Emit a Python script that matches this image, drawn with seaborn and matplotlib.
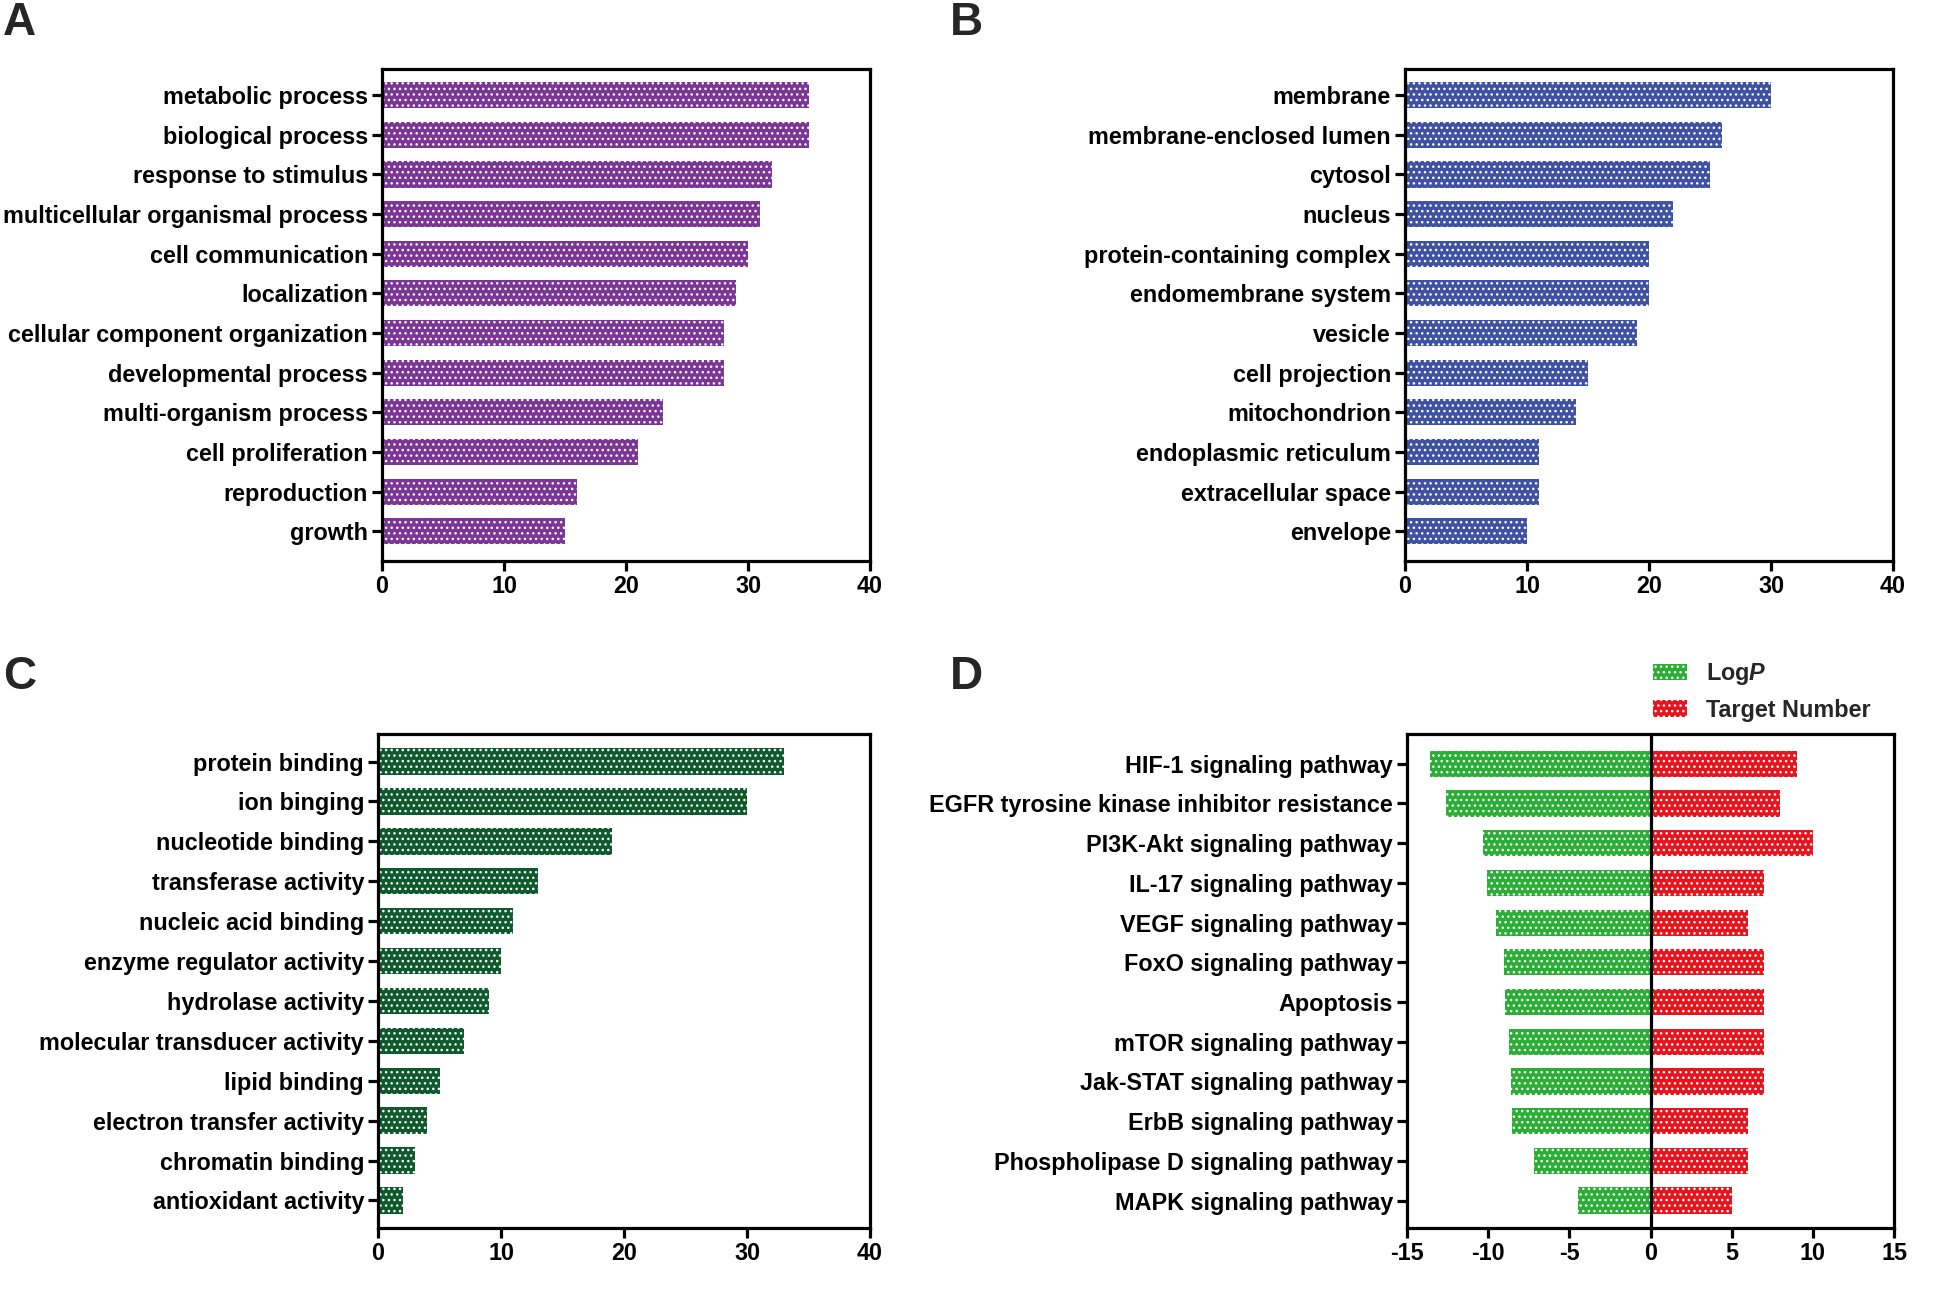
import matplotlib
matplotlib.use("Agg")
import matplotlib.pyplot as plt
import seaborn as sns
import pandas as pd
import numpy as np
from matplotlib.patches import Patch

# ---------------- data ----------------
bp_terms = ["metabolic process", "biological process", "response to stimulus",
            "multicellular organismal process", "cell communication", "localization",
            "cellular component organization", "developmental process",
            "multi-organism process", "cell proliferation", "reproduction", "growth"]
bp_counts = [35, 35, 32, 31, 30, 29, 28, 28, 23, 21, 16, 15]

cc_terms = ["membrane", "membrane-enclosed lumen", "cytosol", "nucleus",
            "protein-containing complex", "endomembrane system", "vesicle",
            "cell projection", "mitochondrion", "endoplasmic reticulum",
            "extracellular space", "envelope"]
cc_counts = [30, 26, 25, 22, 20, 20, 19, 15, 14, 11, 11, 10]

mf_terms = ["protein binding", "ion binging", "nucleotide binding", "transferase activity",
            "nucleic acid binding", "enzyme regulator activity", "hydrolase activity",
            "molecular transducer activity", "lipid binding", "electron transfer activity",
            "chromatin binding", "antioxidant activity"]
mf_counts = [33, 30, 19, 13, 11, 10, 9, 7, 5, 4, 3, 2]

kegg_terms = ["HIF-1 signaling pathway", "EGFR tyrosine kinase inhibitor resistance",
              "PI3K-Akt signaling pathway", "IL-17 signaling pathway",
              "VEGF signaling pathway", "FoxO signaling pathway", "Apoptosis",
              "mTOR signaling pathway", "Jak-STAT signaling pathway",
              "ErbB signaling pathway", "Phospholipase D signaling pathway",
              "MAPK signaling pathway"]
kegg_logp = [-13.6, -12.6, -10.3, -10.1, -9.5, -9.0, -8.95, -8.7, -8.6, -8.55, -7.2, -4.45]
kegg_targets = [9, 8, 10, 7, 6, 7, 7, 7, 7, 6, 6, 5]

# ---------------- style ----------------
sns.set_style("ticks")
plt.rcParams['font.family'] = ['Liberation Sans', 'DejaVu Sans']
plt.rcParams['font.weight'] = 'bold'
plt.rcParams['axes.unicode_minus'] = False
plt.rcParams['hatch.color'] = 'white'
plt.rcParams['hatch.linewidth'] = 1.0
plt.rcParams['mathtext.fontset'] = 'custom'
plt.rcParams['mathtext.rm'] = 'Liberation Sans:bold'
plt.rcParams['mathtext.it'] = 'Liberation Sans:italic:bold'
plt.rcParams['mathtext.bf'] = 'Liberation Sans:bold'

fig = plt.figure(figsize=(19.44, 12.93), dpi=100)

W, H = 1944, 1293
def axes_px(l, r, t, b):
    return fig.add_axes([l / W, 1 - b / H, (r - l) / W, (b - t) / H])

axA = axes_px(382, 870, 69, 561)
axB = axes_px(1405, 1893, 69, 561)
axC = axes_px(378, 870, 734, 1228)
axD = axes_px(1407, 1894, 734, 1228)

FS = 16.8
BARW = 0.66

def style_axes(ax):
    for s in ax.spines.values():
        s.set_linewidth(2.3)
        s.set_color('black')
        s.set_visible(True)
    ax.tick_params(axis='both', direction='out', length=7, width=2.3,
                   labelsize=FS, colors='black', pad=3)
    for lab in ax.get_xticklabels() + ax.get_yticklabels():
        lab.set_fontweight('bold')
    ax.set_xlabel('')
    ax.set_ylabel('')

def hatch_bars(ax):
    for p in ax.patches:
        p.set_hatch('...')
        p.set_edgecolor('white')
        p.set_linewidth(0)

def simple_panel(ax, terms, counts, color, ytop, ybot):
    df = pd.DataFrame({'term': terms, 'count': counts})
    sns.barplot(data=df, y='term', x='count', orient='h', color=color,
                width=BARW, saturation=1, ax=ax)
    hatch_bars(ax)
    ax.set_xlim(0, 40)
    ax.set_xticks([0, 10, 20, 30, 40])
    ax.set_ylim(ybot, ytop)
    style_axes(ax)

simple_panel(axA, bp_terms, bp_counts, '#7B3595', -0.66, 11.75)
simple_panel(axB, cc_terms, cc_counts, '#3F51A3', -0.66, 11.75)
simple_panel(axC, mf_terms, mf_counts, '#0F5A2C', -0.69, 11.69)

# Panel D
dfD = pd.DataFrame({
    'term': kegg_terms * 2,
    'value': kegg_logp + kegg_targets,
    'series': ['LogP'] * len(kegg_terms) + ['Target Number'] * len(kegg_terms),
})
sns.barplot(data=dfD, y='term', x='value', hue='series', orient='h', dodge=False,
            palette={'LogP': '#2BAE35', 'Target Number': '#E8141D'},
            width=BARW, saturation=1, ax=axD, legend=False)
hatch_bars(axD)
axD.axvline(0, color='black', lw=2.3, zorder=5)
axD.set_xlim(-15, 15)
axD.set_xticks([-15, -10, -5, 0, 5, 10, 15])
axD.set_ylim(11.69, -0.75)
style_axes(axD)

handles = [Patch(facecolor='#2BAE35', edgecolor='white', hatch='...', linewidth=0),
           Patch(facecolor='#E8141D', edgecolor='white', hatch='...', linewidth=0)]
leg = axD.legend(handles, [r'Log$\it{P}$', 'Target Number'], loc='upper left',
                 bbox_to_anchor=(1653 / W, 1 - 661 / H), bbox_transform=fig.transFigure,
                 frameon=False, fontsize=FS, handlelength=1.45, handleheight=0.7,
                 handletextpad=0.8, labelspacing=0.5, borderpad=0, borderaxespad=0)
for t in leg.get_texts():
    t.set_fontweight('bold')

# Panel letters
for lab, x, y in [('A', 3, 23), ('B', 950, 23), ('C', 3, 677), ('D', 950, 677)]:
    fig.text(x / W, 1 - y / H, lab, fontsize=33, fontweight='bold',
             ha='left', va='center')

fig.savefig('out.png', dpi=100, facecolor='white')
